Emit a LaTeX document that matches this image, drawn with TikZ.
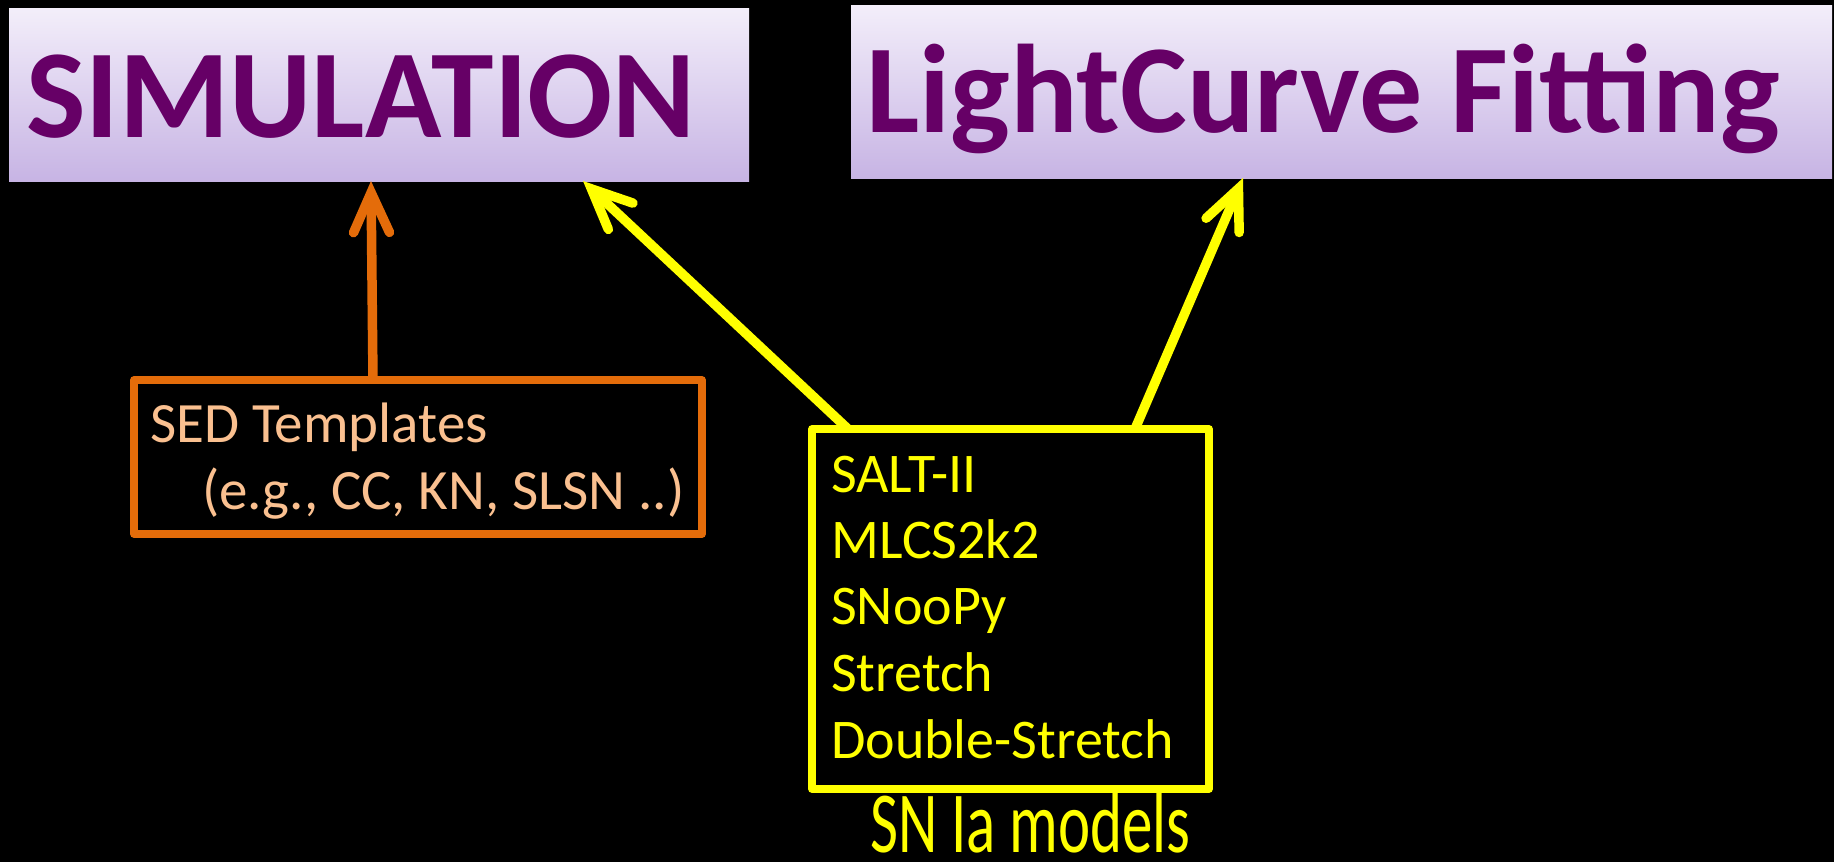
\documentclass[tikz,border=0pt]{standalone}
\usepackage{fontspec}
\setmainfont{Carlito}
\usetikzlibrary{arrows.meta,shadings}

\definecolor{titlepurple}{RGB}{102,0,102}
\definecolor{lavtop}{RGB}{243,238,250}
\definecolor{lavbot}{RGB}{199,180,228}
\definecolor{sedorange}{RGB}{228,108,10}
\definecolor{sedtext}{RGB}{250,192,144}
\definecolor{snyellow}{RGB}{255,255,0}

\tikzset{
  titlebox/.style={rectangle, draw=none, inner sep=0pt, outer sep=0pt, anchor=north west,
    top color=lavtop, bottom color=lavbot},
  titletext/.style={anchor=base west, inner sep=0pt, text=titlepurple,
    font=\fontsize{126}{150}\selectfont\bfseries},
  listbox/.style={rectangle, line width=7.5pt, line join=round, fill=black,
    inner sep=0pt, outer sep=0pt, anchor=north west},
  bodytext/.style={anchor=base west, inner sep=0pt,
    font=\fontsize{56}{68}\selectfont},
  barb/.style={-{Straight Barb[length=40pt,width=36pt,line cap=round,line join=miter]},
    line width=9.5pt, line cap=butt},
}

\begin{document}
\begin{tikzpicture}[x=1pt,y=-1pt]
  % page
  \fill[black] (0,0) rectangle (1834,862);
  \useasboundingbox (0,0) rectangle (1834,862);

  % title panels
  \node[titlebox, minimum width=740pt, minimum height=173pt] (sim) at (9,8) {};
  \node[titletext] (simlabel) at (26,137) {SIMULATION};
  \node[titlebox, minimum width=981pt, minimum height=173pt] (lcf) at (851,5) {};
  \node[titletext] (lcflabel) at (866,132) {LightCurve Fitting};

  % SED template box
  \node[listbox, draw=sedorange, minimum width=568pt, minimum height=154pt] (sed) at (134,380) {};
  \node[bodytext, text=sedtext, font=\fontsize{57}{68}\selectfont] (sed1) at (150,442) {SED Templates};
  \node[bodytext, text=sedtext, font=\fontsize{57}{68}\selectfont] (sed2) at (202,509) {(e.g., CC, KN, SLSN ..)};

  % SN Ia model box
  \node[listbox, draw=snyellow, minimum width=397pt, minimum height=360pt] (models) at (812,429) {};
  \node[bodytext, text=snyellow] (m1) at (831,492) {SALT-II};
  \node[bodytext, text=snyellow] (m2) at (831,558) {MLCS2k2};
  \node[bodytext, text=snyellow] (m3) at (831,624) {SNooPy};
  \node[bodytext, text=snyellow] (m4) at (831,691) {Stretch};
  \node[bodytext, text=snyellow] (m5) at (831,758) {Double-Stretch};
  \node[anchor=base west, inner sep=0pt, text depth=0pt, text=snyellow] (mcap) at (870,852)
    {\scalebox{0.70}[1]{\fontsize{87}{100}\selectfont SN Ia models}};

  % connectors
  \draw[barb, sedorange] ([xshift=239pt]sed.north west) -- ([xshift=362pt]sim.south west);
  \draw[barb, snyellow] ([xshift=36pt]models.north west) -- ([xshift=574pt]sim.south west);
  \draw[barb, snyellow] ([xshift=323pt]models.north west) -- ([xshift=392pt]lcf.south west);
\end{tikzpicture}
\end{document}
